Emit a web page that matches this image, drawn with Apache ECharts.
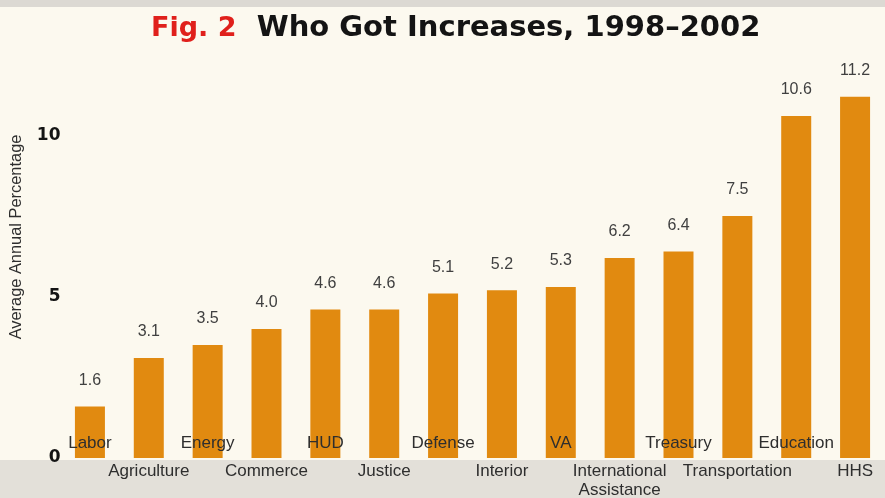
<!DOCTYPE html>
<html>
<head>
<meta charset="utf-8">
<script src="https://cdn.jsdelivr.net/npm/echarts@6/dist/echarts.min.js"></script>
<style>
  html, body { margin: 0; padding: 0; background: #fcf9ef; }
  #chart { width: 885px; height: 498px; }
</style>
</head>
<body>
<div id="chart"></div>
<script>
const departments = [
  "Labor", "Agriculture", "Energy", "Commerce", "HUD", "Justice", "Defense",
  "Interior", "VA", "International\nAssistance", "Treasury", "Transportation",
  "Education", "HHS"
];
const increases = [1.6, 3.1, 3.5, 4.0, 4.6, 4.6, 5.1, 5.2, 5.3, 6.2, 6.4, 7.5, 10.6, 11.2];
const yTicks = [0, 5, 10];

const plain = "'Liberation Sans', Arial, sans-serif";

const chart = echarts.init(document.getElementById("chart"));

const option = {
  backgroundColor: "#fcf9ef",
  animation: false,
  title: {
    left: 146,
    top: 9,
    text: "{red|Fig. 2}{blk|  Who Got Increases, 1998\u20132002}",
    textStyle: {
      rich: {
        red: { color: "#e0201c", fontSize: 27, fontWeight: "bold", fontFamily: "DejaVu Sans" },
        blk: { color: "#141414", fontSize: 29, fontWeight: "bold", fontFamily: "DejaVu Sans" }
      }
    }
  },
  graphic: [
    { type: "rect", z: -10, shape: { x: 0, y: 0, width: 885, height: 7 }, style: { fill: "#dcd9d3" } },
    { type: "rect", z: -10, shape: { x: 0, y: 460, width: 885, height: 38 }, style: { fill: "#e3e0d9" } }
  ],
  grid: { left: 60.5, right: 0.5, top: 16, bottom: 40, outerBoundsMode: "none" },
  xAxis: [
    {
      type: "category",
      data: departments,
      z: 10,
      axisLine: { show: false },
      axisTick: { show: false },
      axisLabel: {
        interval: (i) => i % 2 === 0,
        margin: -23,
        fontFamily: plain,
        fontSize: 17,
        lineHeight: 17,
        color: "#2e2e2e"
      }
    },
    {
      type: "category",
      data: departments,
      position: "bottom",
      z: 10,
      axisLine: { show: false },
      axisTick: { show: false },
      axisLabel: {
        interval: (i) => i % 2 === 1,
        margin: 4,
        fontFamily: plain,
        fontSize: 17,
        lineHeight: 19,
        color: "#2e2e2e"
      }
    }
  ],
  yAxis: {
    type: "value",
    min: 0,
    max: 13.7,
    interval: 5,
    name: "Average Annual Percentage",
    nameLocation: "middle",
    nameRotate: 90,
    nameGap: 36,
    nameTextStyle: { fontFamily: plain, fontSize: 16.4, color: "#2e2e2e" },
    axisLine: { show: false },
    axisTick: { show: false },
    splitLine: { show: false },
    axisLabel: {
      showMaxLabel: false,
      margin: 0,
      verticalAlign: "middle",
      padding: [0, 0, 12, 0],
      fontFamily: "DejaVu Sans",
      fontWeight: "bold",
      fontSize: 17,
      color: "#141414",
      formatter: (v) => (yTicks.includes(v) ? String(v) : "")
    }
  },
  series: [
    {
      type: "bar",
      data: increases,
      barWidth: 30,
      itemStyle: { color: "#e18a10" },
      label: {
        show: true,
        position: "top",
        distance: 18,
        fontFamily: plain,
        fontSize: 16,
        color: "#404040",
        formatter: (p) => p.value.toFixed(1)
      }
    }
  ]
};

chart.setOption(option);
</script>
</body>
</html>
